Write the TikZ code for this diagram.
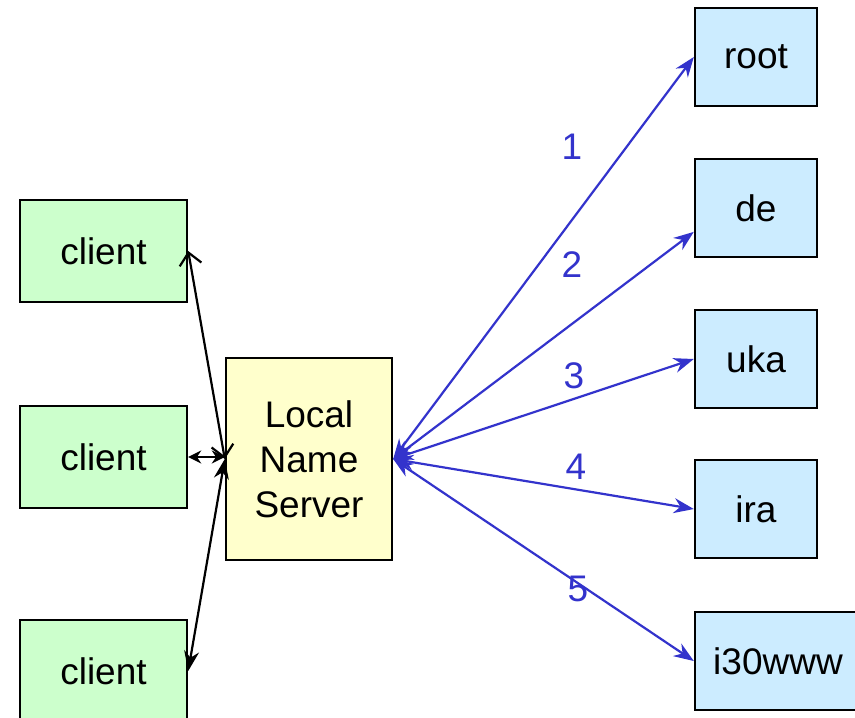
\documentclass[tikz,border=0pt]{standalone}
\usepackage{fontspec}
\setmainfont{Liberation Sans}
\usetikzlibrary{arrows.meta}
\definecolor{clientgreen}{RGB}{204,255,204}
\definecolor{serveryellow}{RGB}{255,255,204}
\definecolor{zoneblue}{RGB}{204,236,255}
\definecolor{queryblue}{RGB}{51,51,204}
\tikzstyle{client} = [rectangle, minimum width=167pt, minimum height=102pt, inner sep=0pt, text centered, draw=black, line width=2.4pt, fill=clientgreen, font=\fontsize{37}{45}\selectfont]
\tikzstyle{server} = [client, minimum width=166pt, minimum height=202pt, fill=serveryellow, align=center]
\tikzstyle{zone} = [client, minimum width=122pt, minimum height=98pt, fill=zoneblue]
\tikzstyle{arrow} = [line width=2.2pt, {Stealth[length=20pt,width=15pt]}-{Stealth[length=20pt,width=15pt]}]
\tikzstyle{short arrow} = [line width=2.2pt, {Stealth[length=13pt,width=13pt]}-{Stealth[length=13pt,width=13pt]}]
\tikzstyle{openarrow} = [line width=2.2pt, {Straight Barb[length=12pt,width=22pt]}-{Straight Barb[length=12pt,width=22pt]}]
\tikzstyle{query} = [arrow, draw=queryblue]
\tikzstyle{step num} = [text=queryblue, font=\fontsize{37}{45}\selectfont]

\begin{document}
\begin{tikzpicture}[x=1pt, y=-1pt]
			\clip (0,0) rectangle (855,718);
			\fill[white] (0,0) rectangle (855,718);
			
			\node[client] (c1) at (103.5,251) {client};
			\node[client] (c2) at (103.5,457) {client};
			\node[client] (c3) at (103.5,671) {client};
			\node[server] (lns) at (309,459) {Local\\Name\\Server};
			
			\node[zone] (root) at (756,57) {root};
			\node[zone] (de) at (756,208) {de};
			\node[zone] (uka) at (756,359) {uka};
			\node[zone] (ira) at (756,509) {ira};
			\node[zone, minimum width=166pt] (i30) at (778,661) {i30www};
			
			\draw [openarrow] (lns.west) -- (c1.east);
			\draw [short arrow] (c2.east) -- (lns.west |- c2.east);
			\draw [arrow] (lns.west) -- (c3.east);
			
			\draw [query] (lns.east) -- (root.west);
			\draw [query] (lns.east) -- (de.201);
			\draw [query] (lns.east) -- (uka.west);
			\draw [query] (lns.east) -- (ira.west);
			\draw [query] (lns.east) -- (i30.west);
			
			\node[step num] (n1) at (572,147) {1};
			\node[step num] (n2) at (572,265) {2};
			\node[step num] (n3) at (574,376) {3};
			\node[step num] (n4) at (576,467) {4};
			\node[step num] (n5) at (578,589) {5};
			
		\end{tikzpicture}
\end{document}
